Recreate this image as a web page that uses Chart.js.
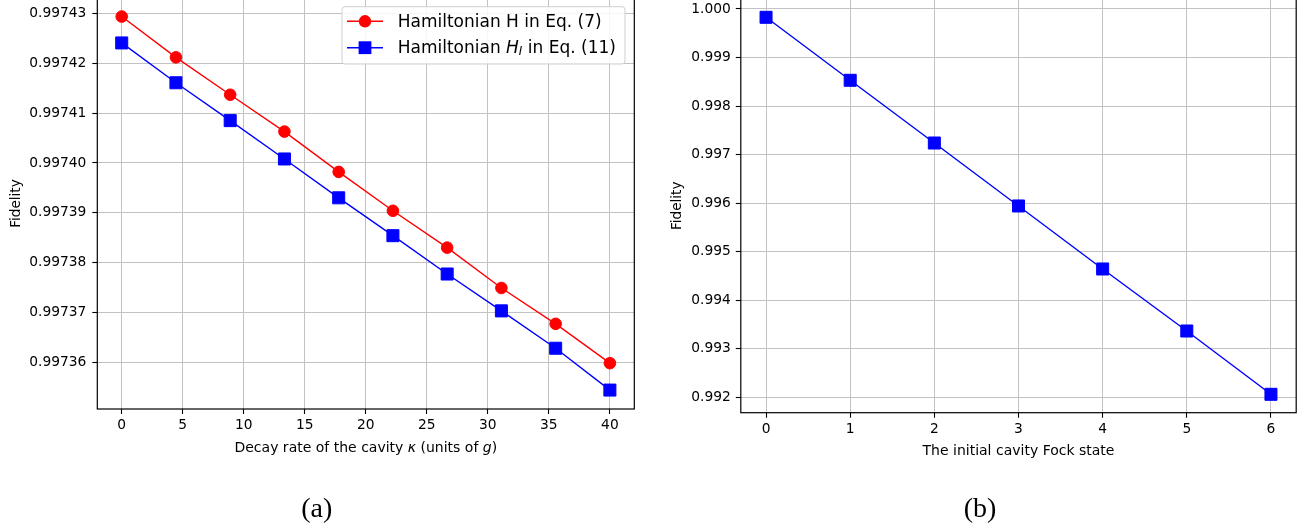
<!DOCTYPE html>
<html><head><meta charset="utf-8">
<script src="https://cdn.jsdelivr.net/npm/chart.js@4.4.0/dist/chart.umd.min.js"></script>
<style>
html,body{margin:0;padding:0;background:#fff;width:1311px;height:530px;overflow:hidden;position:relative}
canvas{position:absolute}
#cA{left:0;top:-30px}
#cB{left:650px;top:-30px}
</style>
</head><body>
<canvas id="cA" width="650" height="560"></canvas>
<canvas id="cB" width="661" height="560"></canvas>
<script>
// ---------- data ----------
const kappaX = [0, 4.444, 8.889, 13.333, 17.778, 22.222, 26.667, 31.111, 35.556, 40];
const fidH   = [0.9974294, 0.9974212, 0.9974137, 0.9974063, 0.9973982, 0.9973904, 0.9973830, 0.9973749, 0.9973677, 0.9973598];
const fidHI  = [0.9974241, 0.9974161, 0.9974085, 0.9974008, 0.9973930, 0.9973854, 0.9973777, 0.9973703, 0.9973628, 0.9973544];
const fockX   = [0, 1, 2, 3, 4, 5, 6];
const fidFock = [0.999829, 0.998531, 0.997239, 0.995942, 0.994644, 0.993366, 0.992062];
const xTicksA = [0, 5, 10, 15, 20, 25, 30, 35, 40];
const yTicksA = [0.99736, 0.99737, 0.99738, 0.99739, 0.99740, 0.99741, 0.99742, 0.99743];
const xTicksB = [0, 1, 2, 3, 4, 5, 6];
const yTicksB = [0.992, 0.993, 0.994, 0.995, 0.996, 0.997, 0.998, 0.999, 1.000];
const seriesNames = ['Hamiltonian H in Eq. (7)', 'Hamiltonian H_I in Eq. (11)'];

const SANS = '"DejaVu Sans"';
const TICK_FONT = 13.8;

function pts(xs, ys){ return xs.map((x,i)=>({x:x, y:ys[i]})); }

function drawRuns(ctx, runs, cx, y, align){
  let total = 0;
  runs.forEach(r=>{ ctx.font = r.font; r.w = ctx.measureText(r.t).width; total += r.w; });
  let x = align === 'left' ? cx : cx - total/2;
  ctx.textAlign = 'left'; ctx.textBaseline = 'alphabetic';
  runs.forEach(r=>{ ctx.font = r.font; ctx.fillText(r.t, x, y + (r.dy||0)); x += r.w; });
}

function decoPlugin(cfg){
  return {
    id: 'deco',
    afterDraw(chart){
      const ctx = chart.ctx, a = chart.chartArea;
      ctx.save();
      ctx.strokeStyle = '#000'; ctx.lineWidth = 1.2;
      ctx.strokeRect(a.left, a.top, a.right - a.left, a.bottom - a.top);
      ctx.fillStyle = '#000';
      // y title
      ctx.save();
      ctx.font = '13.6px ' + SANS;
      ctx.translate(cfg.yTitleX, (a.top + a.bottom)/2);
      ctx.rotate(-Math.PI/2);
      ctx.textAlign = 'center'; ctx.textBaseline = 'alphabetic';
      ctx.fillText('Fidelity', 0, 0);
      ctx.restore();
      // x title
      drawRuns(ctx, cfg.xRuns, (a.left + a.right)/2, cfg.xTitleY);
      // caption
      ctx.font = '28px "Liberation Serif"';
      ctx.textAlign = 'center'; ctx.textBaseline = 'alphabetic';
      ctx.fillText(cfg.caption, cfg.capX, cfg.capY);
      if (cfg.legend) drawLegend(ctx, chart, cfg.legend);
      ctx.restore();
    }
  };
}

function roundRect(ctx, x, y, w, h, r){
  ctx.beginPath();
  ctx.moveTo(x + r, y);
  ctx.lineTo(x + w - r, y); ctx.arcTo(x + w, y, x + w, y + r, r);
  ctx.lineTo(x + w, y + h - r); ctx.arcTo(x + w, y + h, x + w - r, y + h, r);
  ctx.lineTo(x + r, y + h); ctx.arcTo(x, y + h, x, y + h - r, r);
  ctx.lineTo(x, y + r); ctx.arcTo(x, y, x + r, y, r);
  ctx.closePath();
}

function drawLegend(ctx, chart, L){
  roundRect(ctx, L.x, L.y, L.w, L.h, 3);
  ctx.fillStyle = 'rgba(255,255,255,0.85)'; ctx.fill();
  ctx.strokeStyle = '#d0d0d0'; ctx.lineWidth = 1; ctx.stroke();
  const ds = chart.data.datasets;
  L.rows.forEach((row, i)=>{
    const d = ds[i];
    ctx.strokeStyle = d.borderColor; ctx.lineWidth = d.borderWidth;
    ctx.beginPath(); ctx.moveTo(L.lineX0, row.cy); ctx.lineTo(L.lineX1, row.cy); ctx.stroke();
    const mx = (L.lineX0 + L.lineX1)/2;
    ctx.fillStyle = d.pointBackgroundColor;
    if (d.pointStyle === 'circle'){
      ctx.beginPath(); ctx.arc(mx, row.cy, 6.2, 0, Math.PI*2); ctx.fill();
    } else {
      ctx.fillRect(mx - 6.4, row.cy - 6.4, 12.8, 12.8);
    }
    ctx.fillStyle = '#000';
    drawRuns(ctx, row.runs, L.textX, row.base, 'left');
  });
}

function axisCommon(min, max, ticks, fmt, pad, fitSize, isX){
  return {
    type: 'linear', min: min, max: max,
    afterBuildTicks: s => { s.ticks = ticks.map(v => ({value: v})); },
    afterFit: s => {
      if (isX) s.height = fitSize; else s.width = fitSize;
      s.paddingTop = 0; s.paddingBottom = 0; s.paddingLeft = 0; s.paddingRight = 0;
    },
    ticks: { callback: v => fmt(v), color: '#000', padding: pad, autoSkip: false, maxRotation: 0,
             font: { family: 'DejaVu Sans', size: TICK_FONT } },
    grid: { color: '#c2c2c2', lineWidth: 1, drawTicks: true, tickLength: 5, tickColor: '#000', tickWidth: 1.1 },
    border: { display: false }
  };
}

Chart.defaults.font.family = 'DejaVu Sans';

// ---------- chart (a) ----------
new Chart(document.getElementById('cA'), {
  type: 'line',
  data: { datasets: [
    { label: seriesNames[0], data: pts(kappaX, fidH), borderColor: '#ff0000', borderWidth: 1.4,
      pointStyle: 'circle', pointRadius: 5.8, pointBorderWidth: 1, pointBackgroundColor: '#ff0000',
      pointBorderColor: '#ff0000', tension: 0, fill: false },
    { label: seriesNames[1], data: pts(kappaX, fidHI), borderColor: '#0000ff', borderWidth: 1.4,
      pointStyle: 'rect', pointRadius: 8.5, pointBorderWidth: 1, pointBackgroundColor: '#0000ff',
      pointBorderColor: '#0000ff', tension: 0, fill: false }
  ]},
  options: {
    responsive: false, animation: false, devicePixelRatio: 1,
    layout: { padding: { left: 0, right: 15.7, top: 28.1, bottom: 0 } },
    plugins: { legend: { display: false }, tooltip: { enabled: false } },
    scales: {
      x: axisCommon(-2, 42, xTicksA, v => String(v), 3.5, 121, true),
      y: axisCommon(0.9973506, 0.9974331, yTicksA, v => v.toFixed(5), 6, 97.3, false)
    }
  },
  plugins: [decoPlugin({
    yTitleX: 19.5, xTitleY: 481.5, caption: '(a)', capX: 316.7, capY: 547,
    xRuns: [
      { t: 'Decay rate of the cavity ', font: '14px ' + SANS },
      { t: 'κ', font: 'oblique 14px ' + SANS },
      { t: ' (units of ', font: '14px ' + SANS },
      { t: 'g', font: 'oblique 14px ' + SANS },
      { t: ')', font: '14px ' + SANS }
    ],
    legend: {
      x: 342, y: 36.7, w: 283, h: 57.3, lineX0: 347, lineX1: 383, textX: 397.7,
      rows: [
        { cy: 51.3, base: 57.3, runs: [ { t: 'Hamiltonian H in Eq. (7)', font: '17px ' + SANS } ] },
        { cy: 77.7, base: 82.7, runs: [
          { t: 'Hamiltonian ', font: '17px ' + SANS },
          { t: 'H', font: 'oblique 17px ' + SANS },
          { t: 'I', font: 'oblique 12px ' + SANS, dy: 2.5 },
          { t: ' in Eq. (11)', font: '17px ' + SANS }
        ] }
      ]
    }
  })]
});

// ---------- chart (b) ----------
new Chart(document.getElementById('cB'), {
  type: 'line',
  data: { datasets: [
    { label: 'Fidelity', data: pts(fockX, fidFock), borderColor: '#0000ff', borderWidth: 1.4,
      pointStyle: 'rect', pointRadius: 8.5, pointBorderWidth: 1, pointBackgroundColor: '#0000ff',
      pointBorderColor: '#0000ff', tension: 0, fill: false }
  ]},
  options: {
    responsive: false, animation: false, devicePixelRatio: 1,
    layout: { padding: { left: 0, right: 14.8, top: 28.9, bottom: 0 } },
    plugins: { legend: { display: false }, tooltip: { enabled: false } },
    scales: {
      x: axisCommon(-0.3, 6.3, xTicksB, v => String(v), 3.5, 117.3, true),
      y: axisCommon(0.991683, 1.000208, yTicksB, v => v.toFixed(3), 5, 90.8, false)
    }
  },
  plugins: [decoPlugin({
    yTitleX: 31, xTitleY: 485, caption: '(b)', capX: 330, capY: 547,
    xRuns: [ { t: 'The initial cavity Fock state', font: '14px ' + SANS } ]
  })]
});
</script>
</body></html>
